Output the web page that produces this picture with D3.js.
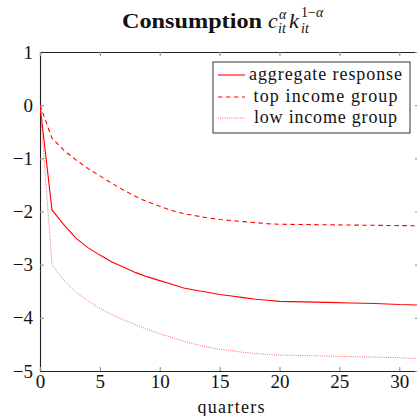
<!DOCTYPE html>
<html>
<head>
<meta charset="utf-8">
<script src="https://cdn.jsdelivr.net/npm/d3@7"></script>
<style>
  body { margin: 0; background: #fff; }
  svg { display: block; }
  text { font-family: "Liberation Serif", "DejaVu Serif", "Times New Roman", serif; fill: #111; }
</style>
</head>
<body>
<svg id="chart" width="417" height="416"></svg>
<script>
// ---- data ----
const quarters = [0,1,2,3,4,5,6,7,8,9,10,11,12,13,14,15,16,17,18,19,20,22,24,26,28,30,32];
const aggregate = [0,-1.97,-2.25,-2.50,-2.68,-2.82,-2.95,-3.05,-3.15,-3.23,-3.30,-3.37,-3.44,-3.48,-3.52,-3.56,-3.59,-3.62,-3.65,-3.67,-3.69,-3.70,-3.71,-3.72,-3.73,-3.75,-3.76];
const topIncome = [0,-0.62,-0.85,-1.03,-1.19,-1.33,-1.47,-1.60,-1.72,-1.82,-1.90,-1.98,-2.04,-2.08,-2.12,-2.15,-2.17,-2.19,-2.21,-2.23,-2.24,-2.245,-2.25,-2.255,-2.26,-2.265,-2.27];
const lowIncome = [0,-3.00,-3.30,-3.52,-3.68,-3.82,-3.94,-4.04,-4.13,-4.22,-4.30,-4.37,-4.44,-4.50,-4.55,-4.59,-4.62,-4.65,-4.67,-4.69,-4.70,-4.71,-4.72,-4.73,-4.74,-4.75,-4.77];
const seriesNames = ["aggregate response", "top income group", "low income group"];
const xTicks = [0,5,10,15,20,25,30];
const yTicks = [1,0,-1,-2,-3,-4,-5];

// ---- layout ----
const FONT = '"Liberation Serif", "DejaVu Serif", "Times New Roman", serif';
const svg = d3.select("#chart");
const L = 40, T = 52, B = 371, R = 419;
const x = d3.scaleLinear().domain([0, 31.65]).range([L, R]);
const y = d3.scaleLinear().domain([-5, 1]).range([B, T]);

svg.append("defs").append("clipPath").attr("id","clip")
  .append("rect").attr("x", L).attr("y", T).attr("width", R - L).attr("height", B - T);

const tickColor = "#9a9a9a";
const fmt = d3.format("d");
function styleAxis(g) {
  g.attr("font-family", FONT).attr("font-size", 19);
  g.select(".domain").attr("stroke", "#222").attr("stroke-width", 1.1);
  g.selectAll(".tick line").attr("stroke", tickColor).attr("stroke-width", 1.2);
  g.selectAll(".tick text").style("font-family", FONT).style("font-size", "19px").attr("fill", "#111");
}

// left axis
svg.append("g").attr("transform", `translate(${L},0)`)
  .call(d3.axisLeft(y).tickValues(yTicks).tickSize(-4).tickPadding(7).tickFormat(fmt))
  .call(styleAxis);
// bottom axis
svg.append("g").attr("transform", `translate(0,${B})`)
  .call(d3.axisBottom(x).tickValues(xTicks).tickSize(-4).tickPadding(4).tickFormat(fmt))
  .call(styleAxis);
// top axis
svg.append("g").attr("transform", `translate(0,${T})`)
  .call(d3.axisTop(x).tickValues(xTicks).tickSize(-4).tickFormat(""))
  .call(styleAxis);
// right axis
svg.append("g").attr("transform", `translate(${R},0)`)
  .call(d3.axisRight(y).tickValues(yTicks).tickSize(-4).tickFormat(""))
  .call(styleAxis);

// ---- lines ----
const series = [
  { name: seriesNames[0], values: aggregate, dash: null, width: 1.1, color: "#ff0000", opacity: 1 },
  { name: seriesNames[1], values: topIncome, dash: "4.5,3.5", width: 1.1, color: "#ff0000", opacity: 1 },
  { name: seriesNames[2], values: lowIncome, dash: "0.9,1.3", width: 0.9, color: "#ff3333", opacity: 0.9 }
];
const line = d3.line().x(d => x(d[0])).y(d => y(d[1]));
const plot = svg.append("g").attr("clip-path", "url(#clip)");
series.forEach(s => {
  plot.append("path")
    .datum(quarters.map((q, i) => [q, s.values[i]]))
    .attr("d", line)
    .attr("fill", "none")
    .attr("stroke", s.color)
    .attr("stroke-opacity", s.opacity)
    .attr("stroke-width", s.width)
    .attr("stroke-dasharray", s.dash);
});

// ---- legend ----
const lg = svg.append("g");
lg.append("rect").attr("x", 213).attr("y", 62).attr("width", 197).attr("height", 71)
  .attr("fill", "#fff").attr("stroke", "#333").attr("stroke-width", 1);
const rowY = [75, 97, 118];
const textLens = [153, 144, 143];
series.forEach((s, i) => {
  lg.append("line").attr("x1", 218).attr("x2", 245).attr("y1", rowY[i]).attr("y2", rowY[i])
    .attr("stroke", s.color).attr("stroke-opacity", s.opacity)
    .attr("stroke-width", s.width).attr("stroke-dasharray", s.dash);
  lg.append("text").attr("x", 325.5).attr("y", rowY[i] + 5)
    .attr("text-anchor", "middle").style("font-size", "18px").style("font-family", FONT)
    .attr("textLength", textLens[i]).attr("lengthAdjust", "spacing")
    .text(s.name);
});

// ---- title ----
const tg = svg.append("g").style("font-family", FONT);
tg.append("text").attr("x", 122).attr("y", 28).style("font-size", "21px").style("font-weight", "bold")
  .attr("textLength", 140).attr("lengthAdjust", "spacingAndGlyphs").text("Consumption");
tg.append("text").attr("x", 268).attr("y", 28).style("font-size", "22px").style("font-style", "italic").text("c");
tg.append("text").attr("x", 279).attr("y", 19).style("font-size", "14px").style("font-style", "italic").text("α");
tg.append("text").attr("x", 278).attr("y", 33).style("font-size", "14px").style("font-style", "italic").text("it");
tg.append("text").attr("x", 289).attr("y", 28).style("font-size", "22px").style("font-style", "italic").text("k");
tg.append("text").attr("x", 301).attr("y", 17).style("font-size", "14px").text("1−").append("tspan").style("font-style", "italic").text("α");
tg.append("text").attr("x", 301).attr("y", 33).style("font-size", "14px").style("font-style", "italic").text("it");

// ---- x label ----
svg.append("text").attr("x", 231).attr("y", 413).attr("text-anchor", "middle")
  .style("font-size", "18px").style("font-family", FONT)
  .attr("textLength", 67).attr("lengthAdjust", "spacing").text("quarters");
</script>
</body>
</html>
